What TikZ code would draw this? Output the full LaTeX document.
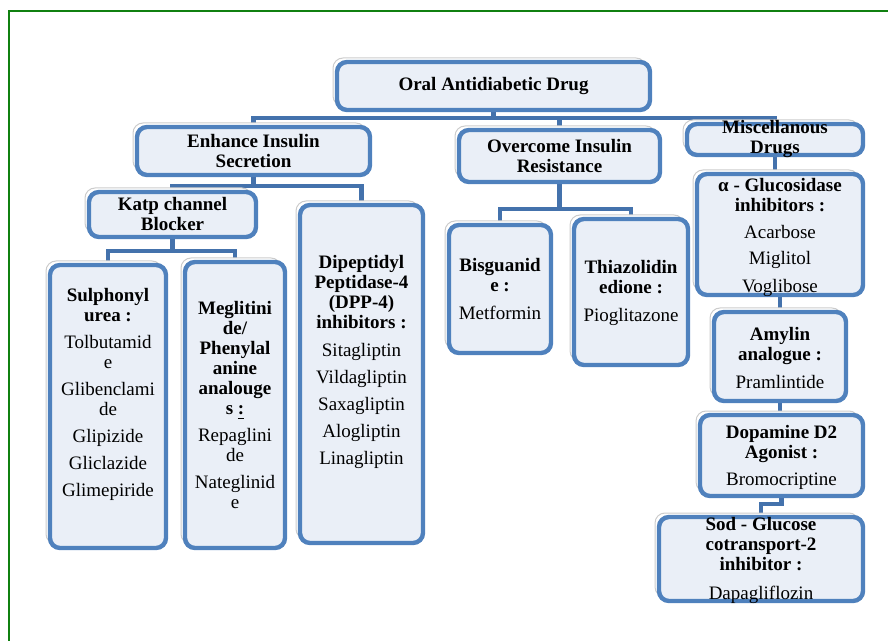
\documentclass[tikz,border=0pt]{standalone}
\usepackage{fontspec}
\setmainfont{Liberation Serif}
\usetikzlibrary{positioning,shadows,backgrounds}
\definecolor{boxblue}{RGB}{79,129,189}
\definecolor{boxfill}{RGB}{234,239,247}
\definecolor{linkblue}{RGB}{68,114,172}
\definecolor{framegreen}{RGB}{16,128,16}

\tikzset{
    box/.style={draw=boxblue, line width=2.2pt, fill=boxfill, rounded corners=5pt,
        align=center, inner sep=1pt, font=\fontsize{9.5}{10}\selectfont\bfseries,
        general shadow={fill=white, draw=black!20, line width=0.5pt,
            shadow xshift=-2pt, shadow yshift=2pt}},
    txt/.style={align=center, inner sep=0pt, font=\fontsize{9.5}{10}\selectfont},
    link/.style={draw=linkblue, line width=2.2pt},
}

\begin{document}
\begin{tikzpicture}[x=0.5pt, y=-0.5pt]
    \useasboundingbox (0,0) rectangle (888,641);
    \clip (0,0) rectangle (888,641);
    \draw[framegreen, line width=1pt] (9,660) -- (9,11) -- (900,11);

    % top level
    \node[box, minimum width=156.5pt, minimum height=24pt] (root) at (493.5,86) {Oral Antidiabetic Drug};

    % second level
    \node[box, minimum width=116.5pt, minimum height=24pt] (enh) at (253.5,151) {Enhance Insulin\\Secretion};
    \node[box, minimum width=100.5pt, minimum height=26pt] (over) at (559.5,156) {Overcome Insulin\\Resistance};
    \node[box, minimum width=88pt, minimum height=15.5pt] (misc) at (775,139.5) {};
    \node[txt, font=\fontsize{9.5}{10}\selectfont\bfseries] (misc-t) at (misc) {Miscellanous\\Drugs};

    % enhance insulin secretion
    \node[box, minimum width=83.5pt, minimum height=22.5pt] (katp) at (172.5,214.5) {Katp channel\\Blocker};
    \node[box, minimum width=58pt, minimum height=141.5pt] (sulph) at (108,406.5) {};
    \node[box, minimum width=50pt, minimum height=143pt] (megl) at (235,405) {};
    \node[box, minimum width=61.5pt, minimum height=169pt] (dpp) at (361.5,374) {};

    \node[txt, below=12.75pt of sulph.north] (sulph-t) {\textbf{Sulphonyl}\\ \textbf{urea :}\\[3.5pt]
        Tolbutamid\\ e\\[3.5pt] Glibenclami\\ de\\[3.5pt] Glipizide\\[3.5pt] Gliclazide\\[3.5pt] Glimepiride};
    \node[txt, below=20.75pt of megl.north] (megl-t) {\textbf{Meglitini}\\ \textbf{de/}\\ \textbf{Phenylal}\\
        \textbf{anine}\\ \textbf{analouge}\\ \textbf{s \underline{:}}\\[3.5pt]
        Repaglini\\ de\\[3.5pt] Nateglinid\\ e};
    \node[txt, below=26.25pt of dpp.north] (dpp-t) {\textbf{Dipeptidyl}\\ \textbf{Peptidase-4}\\
        \textbf{(DPP-4)}\\ \textbf{inhibitors :}\\[4pt]
        Sitagliptin\\[3.5pt] Vildagliptin\\[3.5pt] Saxagliptin\\[3.5pt] Alogliptin\\[3.5pt] Linagliptin};

    % overcome insulin resistance
    \node[box, minimum width=51pt, minimum height=64pt] (bisg) at (500,289) {};
    \node[box, minimum width=57pt, minimum height=73pt] (thia) at (631,292) {};
    \node[txt, below=17.75pt of bisg.north] (bisg-t) {\textbf{Bisguanid}\\ \textbf{e :}\\[4pt] Metformin};
    \node[txt, below=21.75pt of thia.north] (thia-t) {\textbf{Thiazolidin}\\ \textbf{edione :}\\[4pt] Pioglitazone};

    % miscellanous drugs
    \node[box, minimum width=83pt, minimum height=60.5pt] (gluc) at (780,234.5) {};
    \node[box, minimum width=66pt, minimum height=44.5pt] (amyl) at (780,356.5) {};
    \node[box, minimum width=81.5pt, minimum height=40.5pt] (dopa) at (781.5,455.5) {};
    \node[box, minimum width=102pt, minimum height=42pt] (sglt) at (761,559) {};
    \node[txt, below=3.25pt of gluc.north] (gluc-t) {\textbf{α - Glucosidase}\\ \textbf{inhibitors :}\\[3.5pt]
        Acarbose\\[3pt] Miglitol\\[4pt] Voglibose};
    \node[txt, below=8.75pt of amyl.north] (amyl-t) {\textbf{Amylin}\\ \textbf{analogue :}\\[4pt] Pramlintide};
    \node[txt, below=6.25pt of dopa.north] (dopa-t) {\textbf{Dopamine D2}\\ \textbf{Agonist :}\\[3.5pt] Bromocriptine};
    \node[txt, below=1.25pt of sglt.north] (sglt-t) {\textbf{Sod - Glucose}\\ \textbf{cotransport-2}\\
        \textbf{inhibitor :}\\[4.5pt] Dapagliflozin};

    % connectors
    \begin{scope}[on background layer]
        \draw[link] (root.south) -- ++(0,6) -| (enh.north);
        \draw[link] (root.south) -- ++(0,6) -| (over.north);
        \draw[link] (root.south) -- ++(0,6) -| (misc.north);
        \draw[link] (enh.south) -- ++(0,9) -| (katp.north);
        \draw[link] (enh.south) -- ++(0,9) -| (dpp.north);
        \draw[link] (katp.south) -- ++(0,12) -| (sulph.north);
        \draw[link] (katp.south) -- ++(0,12) -| (megl.north);
        \draw[link] (over.south) -- ++(0,25) -| (bisg.north);
        \draw[link] (over.south) -- ++(0,25) -| (thia.north);
        \draw[link] (misc.south) -- (misc.south |- gluc.north);
        \draw[link] (gluc.south) -- (amyl.north);
        \draw[link] (amyl.south) -- (amyl.south |- dopa.north);
        \draw[link] (dopa.south) -- ++(0,6) -| (sglt.north);
    \end{scope}
\end{tikzpicture}
\end{document}
